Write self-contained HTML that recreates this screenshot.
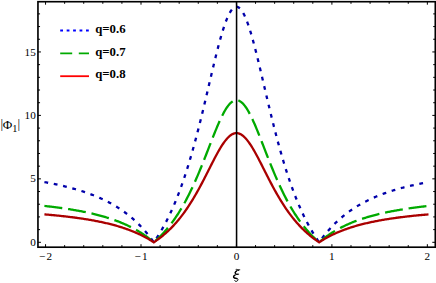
<!DOCTYPE html>
<html><head><meta charset="utf-8"><title>plot</title>
<style>
html,body{margin:0;padding:0;background:#fff;}
body{width:436px;height:283px;overflow:hidden;font-family:"Liberation Serif",serif;}
svg{display:block;}
text{font-family:"Liberation Serif",serif;fill:#000;}
</style></head><body>
<svg width="436" height="283" viewBox="0 0 436 283">
<rect x="0" y="0" width="436" height="283" fill="#fff"/>
<!-- curves -->
<g fill="none" stroke-linejoin="miter" stroke-miterlimit="10">
<path d="M45.55,182.26 L46.50,182.44 L47.46,182.62 L48.41,182.80 L49.37,182.98 L50.32,183.16 L51.28,183.35 L52.23,183.54 L53.19,183.74 L54.14,183.93 L55.09,184.13 L56.05,184.33 L57.00,184.54 L57.96,184.74 L58.91,184.95 L59.87,185.17 L60.82,185.39 L61.78,185.61 L62.73,185.83 L63.69,186.06 L64.64,186.29 L65.59,186.52 L66.55,186.76 L67.50,187.00 L68.46,187.24 L69.41,187.49 L70.37,187.74 L71.32,188.00 L72.28,188.26 L73.23,188.53 L74.18,188.79 L75.14,189.07 L76.09,189.34 L77.05,189.63 L78.00,189.91 L78.96,190.20 L79.91,190.50 L80.87,190.80 L81.82,191.10 L82.78,191.41 L83.73,191.73 L84.68,192.05 L85.64,192.38 L86.59,192.71 L87.55,193.05 L88.50,193.39 L89.46,193.74 L90.41,194.09 L91.37,194.45 L92.32,194.82 L93.27,195.19 L94.23,195.57 L95.18,195.96 L96.14,196.36 L97.09,196.76 L98.05,197.16 L99.00,197.58 L99.96,198.00 L100.91,198.43 L101.87,198.87 L102.82,199.32 L103.77,199.77 L104.73,200.23 L105.68,200.70 L106.64,201.18 L107.59,201.67 L108.55,202.17 L109.50,202.68 L110.46,203.20 L111.41,203.72 L112.36,204.26 L113.32,204.81 L114.27,205.37 L115.23,205.93 L116.18,206.51 L117.14,207.11 L118.09,207.71 L119.05,208.33 L120.00,208.95 L120.96,209.59 L121.91,210.25 L122.86,210.91 L123.82,211.59 L124.77,212.29 L125.73,212.99 L126.68,213.72 L127.64,214.46 L128.59,215.21 L129.55,215.98 L130.50,216.76 L131.45,217.56 L132.41,218.38 L133.36,219.22 L134.32,220.07 L135.27,220.95 L136.23,221.84 L137.18,222.75 L138.14,223.68 L139.09,224.63 L140.05,225.60 L141.00,226.60 L141.95,227.61 L142.91,228.65 L143.86,229.72 L144.82,230.80 L145.77,231.91 L146.73,233.05 L147.68,234.21 L148.64,235.40 L149.59,236.61 L150.54,237.86 L151.50,239.13 L152.45,240.43 L153.41,241.76 L153.79,242.30 L154.36,241.47 L155.32,240.08 L156.27,238.65 L157.23,237.19 L158.18,235.70 L159.14,234.16 L160.09,232.60 L161.04,230.99 L162.00,229.35 L162.95,227.67 L163.91,225.95 L164.86,224.18 L165.82,222.38 L166.77,220.53 L167.73,218.64 L168.68,216.70 L169.63,214.72 L170.59,212.68 L171.54,210.61 L172.50,208.48 L173.45,206.30 L174.41,204.07 L175.36,201.78 L176.32,199.45 L177.27,197.06 L178.23,194.61 L179.18,192.11 L180.13,189.55 L181.09,186.93 L182.04,184.25 L183.00,181.51 L183.95,178.71 L184.91,175.85 L185.86,172.93 L186.82,169.95 L187.77,166.90 L188.72,163.79 L189.68,160.62 L190.63,157.38 L191.59,154.09 L192.54,150.73 L193.50,147.31 L194.45,143.83 L195.41,140.29 L196.36,136.69 L197.32,133.03 L198.27,129.32 L199.22,125.56 L200.18,121.75 L201.13,117.89 L202.09,113.99 L203.04,110.05 L204.00,106.07 L204.95,102.06 L205.91,98.03 L206.86,93.97 L207.81,89.90 L208.77,85.82 L209.72,81.74 L210.68,77.67 L211.63,73.61 L212.59,69.58 L213.54,65.58 L214.50,61.62 L215.45,57.71 L216.41,53.86 L217.36,50.09 L218.31,46.40 L219.27,42.80 L220.22,39.31 L221.18,35.94 L222.13,32.70 L223.09,29.60 L224.04,26.66 L225.00,23.88 L225.95,21.27 L226.91,18.85 L227.86,16.63 L228.81,14.61 L229.77,12.81 L230.72,11.23 L231.68,9.88 L232.63,8.77 L233.59,7.90 L234.54,7.28 L235.50,6.90 L236.45,6.77 L237.40,6.90 L238.36,7.28 L239.31,7.90 L240.27,8.77 L241.22,9.88 L242.18,11.23 L243.13,12.81 L244.09,14.61 L245.04,16.63 L246.00,18.85 L246.95,21.27 L247.90,23.88 L248.86,26.66 L249.81,29.60 L250.77,32.70 L251.72,35.94 L252.68,39.31 L253.63,42.80 L254.59,46.40 L255.54,50.09 L256.49,53.86 L257.45,57.71 L258.40,61.62 L259.36,65.58 L260.31,69.58 L261.27,73.61 L262.22,77.67 L263.18,81.74 L264.13,85.82 L265.09,89.90 L266.04,93.97 L266.99,98.03 L267.95,102.06 L268.90,106.07 L269.86,110.05 L270.81,113.99 L271.77,117.89 L272.72,121.75 L273.68,125.56 L274.63,129.32 L275.58,133.03 L276.54,136.69 L277.49,140.29 L278.45,143.83 L279.40,147.31 L280.36,150.73 L281.31,154.09 L282.27,157.38 L283.22,160.62 L284.18,163.79 L285.13,166.90 L286.08,169.95 L287.04,172.93 L287.99,175.85 L288.95,178.71 L289.90,181.51 L290.86,184.25 L291.81,186.93 L292.77,189.55 L293.72,192.11 L294.67,194.61 L295.63,197.06 L296.58,199.45 L297.54,201.78 L298.49,204.07 L299.45,206.30 L300.40,208.48 L301.36,210.61 L302.31,212.68 L303.26,214.72 L304.22,216.70 L305.17,218.64 L306.13,220.53 L307.08,222.38 L308.04,224.18 L308.99,225.95 L309.95,227.67 L310.90,229.35 L311.86,230.99 L312.81,232.60 L313.76,234.16 L314.72,235.70 L315.67,237.19 L316.63,238.65 L317.58,240.08 L318.54,241.47 L319.11,242.30 L319.49,241.76 L320.45,240.43 L321.40,239.13 L322.36,237.86 L323.31,236.61 L324.26,235.40 L325.22,234.21 L326.17,233.05 L327.13,231.91 L328.08,230.80 L329.04,229.72 L329.99,228.65 L330.95,227.61 L331.90,226.60 L332.85,225.60 L333.81,224.63 L334.76,223.68 L335.72,222.75 L336.67,221.84 L337.63,220.95 L338.58,220.07 L339.54,219.22 L340.49,218.38 L341.44,217.56 L342.40,216.76 L343.35,215.98 L344.31,215.21 L345.26,214.46 L346.22,213.72 L347.17,212.99 L348.13,212.29 L349.08,211.59 L350.04,210.91 L350.99,210.25 L351.94,209.59 L352.90,208.95 L353.85,208.33 L354.81,207.71 L355.76,207.11 L356.72,206.51 L357.67,205.93 L358.63,205.37 L359.58,204.81 L360.54,204.26 L361.49,203.72 L362.44,203.20 L363.40,202.68 L364.35,202.17 L365.31,201.67 L366.26,201.18 L367.22,200.70 L368.17,200.23 L369.13,199.77 L370.08,199.32 L371.03,198.87 L371.99,198.43 L372.94,198.00 L373.90,197.58 L374.85,197.16 L375.81,196.76 L376.76,196.36 L377.72,195.96 L378.67,195.57 L379.62,195.19 L380.58,194.82 L381.53,194.45 L382.49,194.09 L383.44,193.74 L384.40,193.39 L385.35,193.05 L386.31,192.71 L387.26,192.38 L388.22,192.05 L389.17,191.73 L390.12,191.41 L391.08,191.10 L392.03,190.80 L392.99,190.50 L393.94,190.20 L394.90,189.91 L395.85,189.63 L396.81,189.34 L397.76,189.07 L398.72,188.79 L399.67,188.53 L400.62,188.26 L401.58,188.00 L402.53,187.74 L403.49,187.49 L404.44,187.24 L405.40,187.00 L406.35,186.76 L407.31,186.52 L408.26,186.29 L409.21,186.06 L410.17,185.83 L411.12,185.61 L412.08,185.39 L413.03,185.17 L413.99,184.95 L414.94,184.74 L415.90,184.54 L416.85,184.33 L417.80,184.13 L418.76,183.93 L419.71,183.74 L420.67,183.54 L421.62,183.35 L422.58,183.16 L423.53,182.98 L424.49,182.80 L425.44,182.62 L426.40,182.44 L427.35,182.26" stroke="#0000aa" stroke-width="2.3" stroke-linecap="square" stroke-dasharray="1.5 8.024"/>
<path d="M45.55,206.07 L46.50,206.18 L47.46,206.28 L48.41,206.39 L49.37,206.50 L50.32,206.61 L51.28,206.73 L52.23,206.84 L53.19,206.96 L54.14,207.08 L55.09,207.20 L56.05,207.32 L57.00,207.44 L57.96,207.57 L58.91,207.70 L59.87,207.82 L60.82,207.96 L61.78,208.09 L62.73,208.22 L63.69,208.36 L64.64,208.50 L65.59,208.64 L66.55,208.78 L67.50,208.93 L68.46,209.08 L69.41,209.23 L70.37,209.38 L71.32,209.53 L72.28,209.69 L73.23,209.85 L74.18,210.01 L75.14,210.18 L76.09,210.34 L77.05,210.51 L78.00,210.69 L78.96,210.86 L79.91,211.04 L80.87,211.22 L81.82,211.41 L82.78,211.59 L83.73,211.78 L84.68,211.98 L85.64,212.17 L86.59,212.37 L87.55,212.58 L88.50,212.78 L89.46,213.00 L90.41,213.21 L91.37,213.43 L92.32,213.65 L93.27,213.87 L94.23,214.10 L95.18,214.34 L96.14,214.57 L97.09,214.82 L98.05,215.06 L99.00,215.31 L99.96,215.57 L100.91,215.83 L101.87,216.09 L102.82,216.36 L103.77,216.64 L104.73,216.91 L105.68,217.20 L106.64,217.49 L107.59,217.78 L108.55,218.08 L109.50,218.39 L110.46,218.70 L111.41,219.02 L112.36,219.34 L113.32,219.68 L114.27,220.01 L115.23,220.36 L116.18,220.71 L117.14,221.06 L118.09,221.43 L119.05,221.80 L120.00,222.18 L120.96,222.56 L121.91,222.96 L122.86,223.36 L123.82,223.77 L124.77,224.19 L125.73,224.62 L126.68,225.05 L127.64,225.50 L128.59,225.95 L129.55,226.42 L130.50,226.89 L131.45,227.37 L132.41,227.87 L133.36,228.37 L134.32,228.89 L135.27,229.41 L136.23,229.95 L137.18,230.50 L138.14,231.06 L139.09,231.64 L140.05,232.22 L141.00,232.82 L141.95,233.44 L142.91,234.06 L143.86,234.71 L144.82,235.36 L145.77,236.03 L146.73,236.72 L147.68,237.42 L148.64,238.13 L149.59,238.87 L150.54,239.62 L151.50,240.39 L152.45,241.17 L153.41,241.98 L153.79,242.30 L154.36,241.80 L155.32,240.96 L156.27,240.10 L157.23,239.22 L158.18,238.31 L159.14,237.39 L160.09,236.44 L161.04,235.48 L162.00,234.48 L162.95,233.47 L163.91,232.43 L164.86,231.37 L165.82,230.28 L166.77,229.16 L167.73,228.02 L168.68,226.85 L169.63,225.65 L170.59,224.43 L171.54,223.17 L172.50,221.89 L173.45,220.57 L174.41,219.23 L175.36,217.85 L176.32,216.44 L177.27,215.00 L178.23,213.52 L179.18,212.01 L180.13,210.47 L181.09,208.88 L182.04,207.27 L183.00,205.62 L183.95,203.93 L184.91,202.20 L185.86,200.44 L186.82,198.64 L187.77,196.80 L188.72,194.92 L189.68,193.01 L190.63,191.06 L191.59,189.07 L192.54,187.04 L193.50,184.98 L194.45,182.88 L195.41,180.74 L196.36,178.57 L197.32,176.36 L198.27,174.12 L199.22,171.85 L200.18,169.55 L201.13,167.23 L202.09,164.87 L203.04,162.49 L204.00,160.09 L204.95,157.67 L205.91,155.24 L206.86,152.79 L207.81,150.33 L208.77,147.87 L209.72,145.41 L210.68,142.96 L211.63,140.51 L212.59,138.07 L213.54,135.66 L214.50,133.27 L215.45,130.91 L216.41,128.59 L217.36,126.31 L218.31,124.08 L219.27,121.91 L220.22,119.81 L221.18,117.77 L222.13,115.82 L223.09,113.95 L224.04,112.17 L225.00,110.49 L225.95,108.92 L226.91,107.46 L227.86,106.12 L228.81,104.90 L229.77,103.81 L230.72,102.86 L231.68,102.05 L232.63,101.38 L233.59,100.85 L234.54,100.47 L235.50,100.25 L236.45,100.17 L237.40,100.25 L238.36,100.47 L239.31,100.85 L240.27,101.38 L241.22,102.05 L242.18,102.86 L243.13,103.81 L244.09,104.90 L245.04,106.12 L246.00,107.46 L246.95,108.92 L247.90,110.49 L248.86,112.17 L249.81,113.95 L250.77,115.82 L251.72,117.77 L252.68,119.81 L253.63,121.91 L254.59,124.08 L255.54,126.31 L256.49,128.59 L257.45,130.91 L258.40,133.27 L259.36,135.66 L260.31,138.07 L261.27,140.51 L262.22,142.96 L263.18,145.41 L264.13,147.87 L265.09,150.33 L266.04,152.79 L266.99,155.24 L267.95,157.67 L268.90,160.09 L269.86,162.49 L270.81,164.87 L271.77,167.23 L272.72,169.55 L273.68,171.85 L274.63,174.12 L275.58,176.36 L276.54,178.57 L277.49,180.74 L278.45,182.88 L279.40,184.98 L280.36,187.04 L281.31,189.07 L282.27,191.06 L283.22,193.01 L284.18,194.92 L285.13,196.80 L286.08,198.64 L287.04,200.44 L287.99,202.20 L288.95,203.93 L289.90,205.62 L290.86,207.27 L291.81,208.88 L292.77,210.47 L293.72,212.01 L294.67,213.52 L295.63,215.00 L296.58,216.44 L297.54,217.85 L298.49,219.23 L299.45,220.57 L300.40,221.89 L301.36,223.17 L302.31,224.43 L303.26,225.65 L304.22,226.85 L305.17,228.02 L306.13,229.16 L307.08,230.28 L308.04,231.37 L308.99,232.43 L309.95,233.47 L310.90,234.48 L311.86,235.48 L312.81,236.44 L313.76,237.39 L314.72,238.31 L315.67,239.22 L316.63,240.10 L317.58,240.96 L318.54,241.80 L319.11,242.30 L319.49,241.98 L320.45,241.17 L321.40,240.39 L322.36,239.62 L323.31,238.87 L324.26,238.13 L325.22,237.42 L326.17,236.72 L327.13,236.03 L328.08,235.36 L329.04,234.71 L329.99,234.06 L330.95,233.44 L331.90,232.82 L332.85,232.22 L333.81,231.64 L334.76,231.06 L335.72,230.50 L336.67,229.95 L337.63,229.41 L338.58,228.89 L339.54,228.37 L340.49,227.87 L341.44,227.37 L342.40,226.89 L343.35,226.42 L344.31,225.95 L345.26,225.50 L346.22,225.05 L347.17,224.62 L348.13,224.19 L349.08,223.77 L350.04,223.36 L350.99,222.96 L351.94,222.56 L352.90,222.18 L353.85,221.80 L354.81,221.43 L355.76,221.06 L356.72,220.71 L357.67,220.36 L358.63,220.01 L359.58,219.68 L360.54,219.34 L361.49,219.02 L362.44,218.70 L363.40,218.39 L364.35,218.08 L365.31,217.78 L366.26,217.49 L367.22,217.20 L368.17,216.91 L369.13,216.64 L370.08,216.36 L371.03,216.09 L371.99,215.83 L372.94,215.57 L373.90,215.31 L374.85,215.06 L375.81,214.82 L376.76,214.57 L377.72,214.34 L378.67,214.10 L379.62,213.87 L380.58,213.65 L381.53,213.43 L382.49,213.21 L383.44,213.00 L384.40,212.78 L385.35,212.58 L386.31,212.37 L387.26,212.17 L388.22,211.98 L389.17,211.78 L390.12,211.59 L391.08,211.41 L392.03,211.22 L392.99,211.04 L393.94,210.86 L394.90,210.69 L395.85,210.51 L396.81,210.34 L397.76,210.18 L398.72,210.01 L399.67,209.85 L400.62,209.69 L401.58,209.53 L402.53,209.38 L403.49,209.23 L404.44,209.08 L405.40,208.93 L406.35,208.78 L407.31,208.64 L408.26,208.50 L409.21,208.36 L410.17,208.22 L411.12,208.09 L412.08,207.96 L413.03,207.82 L413.99,207.70 L414.94,207.57 L415.90,207.44 L416.85,207.32 L417.80,207.20 L418.76,207.08 L419.71,206.96 L420.67,206.84 L421.62,206.73 L422.58,206.61 L423.53,206.50 L424.49,206.39 L425.44,206.28 L426.40,206.18 L427.35,206.07" stroke="#00aa00" stroke-width="2.3" stroke-linecap="square" stroke-dasharray="15.7 8.15"/>
<path d="M45.55,214.48 L46.50,214.56 L47.46,214.64 L48.41,214.73 L49.37,214.81 L50.32,214.90 L51.28,214.99 L52.23,215.07 L53.19,215.16 L54.14,215.25 L55.09,215.35 L56.05,215.44 L57.00,215.53 L57.96,215.63 L58.91,215.73 L59.87,215.83 L60.82,215.93 L61.78,216.03 L62.73,216.13 L63.69,216.24 L64.64,216.35 L65.59,216.45 L66.55,216.56 L67.50,216.68 L68.46,216.79 L69.41,216.90 L70.37,217.02 L71.32,217.14 L72.28,217.26 L73.23,217.38 L74.18,217.51 L75.14,217.63 L76.09,217.76 L77.05,217.89 L78.00,218.03 L78.96,218.16 L79.91,218.30 L80.87,218.44 L81.82,218.58 L82.78,218.72 L83.73,218.87 L84.68,219.02 L85.64,219.17 L86.59,219.32 L87.55,219.48 L88.50,219.64 L89.46,219.80 L90.41,219.96 L91.37,220.13 L92.32,220.30 L93.27,220.47 L94.23,220.65 L95.18,220.83 L96.14,221.01 L97.09,221.20 L98.05,221.39 L99.00,221.58 L99.96,221.77 L100.91,221.97 L101.87,222.18 L102.82,222.38 L103.77,222.59 L104.73,222.81 L105.68,223.03 L106.64,223.25 L107.59,223.47 L108.55,223.71 L109.50,223.94 L110.46,224.18 L111.41,224.42 L112.36,224.67 L113.32,224.93 L114.27,225.19 L115.23,225.45 L116.18,225.72 L117.14,225.99 L118.09,226.27 L119.05,226.56 L120.00,226.85 L120.96,227.14 L121.91,227.45 L122.86,227.76 L123.82,228.07 L124.77,228.39 L125.73,228.72 L126.68,229.06 L127.64,229.40 L128.59,229.75 L129.55,230.10 L130.50,230.47 L131.45,230.84 L132.41,231.22 L133.36,231.61 L134.32,232.00 L135.27,232.41 L136.23,232.82 L137.18,233.24 L138.14,233.67 L139.09,234.11 L140.05,234.56 L141.00,235.02 L141.95,235.50 L142.91,235.98 L143.86,236.47 L144.82,236.97 L145.77,237.49 L146.73,238.01 L147.68,238.55 L148.64,239.10 L149.59,239.66 L150.54,240.24 L151.50,240.83 L152.45,241.43 L153.41,242.05 L153.79,242.30 L154.36,241.92 L155.32,241.27 L156.27,240.61 L157.23,239.93 L158.18,239.24 L159.14,238.53 L160.09,237.80 L161.04,237.06 L162.00,236.30 L162.95,235.52 L163.91,234.72 L164.86,233.91 L165.82,233.07 L166.77,232.21 L167.73,231.34 L168.68,230.44 L169.63,229.52 L170.59,228.58 L171.54,227.61 L172.50,226.63 L173.45,225.62 L174.41,224.58 L175.36,223.53 L176.32,222.44 L177.27,221.34 L178.23,220.20 L179.18,219.04 L180.13,217.86 L181.09,216.64 L182.04,215.40 L183.00,214.13 L183.95,212.84 L184.91,211.51 L185.86,210.16 L186.82,208.77 L187.77,207.36 L188.72,205.92 L189.68,204.45 L190.63,202.95 L191.59,201.43 L192.54,199.87 L193.50,198.28 L194.45,196.67 L195.41,195.03 L196.36,193.36 L197.32,191.67 L198.27,189.95 L199.22,188.21 L200.18,186.44 L201.13,184.65 L202.09,182.85 L203.04,181.02 L204.00,179.18 L204.95,177.32 L205.91,175.45 L206.86,173.57 L207.81,171.68 L208.77,169.79 L209.72,167.90 L210.68,166.02 L211.63,164.14 L212.59,162.27 L213.54,160.41 L214.50,158.58 L215.45,156.77 L216.41,154.99 L217.36,153.24 L218.31,151.53 L219.27,149.86 L220.22,148.24 L221.18,146.68 L222.13,145.18 L223.09,143.74 L224.04,142.38 L225.00,141.09 L225.95,139.88 L226.91,138.76 L227.86,137.73 L228.81,136.80 L229.77,135.96 L230.72,135.23 L231.68,134.61 L232.63,134.09 L233.59,133.69 L234.54,133.40 L235.50,133.22 L236.45,133.17 L237.40,133.22 L238.36,133.40 L239.31,133.69 L240.27,134.09 L241.22,134.61 L242.18,135.23 L243.13,135.96 L244.09,136.80 L245.04,137.73 L246.00,138.76 L246.95,139.88 L247.90,141.09 L248.86,142.38 L249.81,143.74 L250.77,145.18 L251.72,146.68 L252.68,148.24 L253.63,149.86 L254.59,151.53 L255.54,153.24 L256.49,154.99 L257.45,156.77 L258.40,158.58 L259.36,160.41 L260.31,162.27 L261.27,164.14 L262.22,166.02 L263.18,167.90 L264.13,169.79 L265.09,171.68 L266.04,173.57 L266.99,175.45 L267.95,177.32 L268.90,179.18 L269.86,181.02 L270.81,182.85 L271.77,184.65 L272.72,186.44 L273.68,188.21 L274.63,189.95 L275.58,191.67 L276.54,193.36 L277.49,195.03 L278.45,196.67 L279.40,198.28 L280.36,199.87 L281.31,201.43 L282.27,202.95 L283.22,204.45 L284.18,205.92 L285.13,207.36 L286.08,208.77 L287.04,210.16 L287.99,211.51 L288.95,212.84 L289.90,214.13 L290.86,215.40 L291.81,216.64 L292.77,217.86 L293.72,219.04 L294.67,220.20 L295.63,221.34 L296.58,222.44 L297.54,223.53 L298.49,224.58 L299.45,225.62 L300.40,226.63 L301.36,227.61 L302.31,228.58 L303.26,229.52 L304.22,230.44 L305.17,231.34 L306.13,232.21 L307.08,233.07 L308.04,233.91 L308.99,234.72 L309.95,235.52 L310.90,236.30 L311.86,237.06 L312.81,237.80 L313.76,238.53 L314.72,239.24 L315.67,239.93 L316.63,240.61 L317.58,241.27 L318.54,241.92 L319.11,242.30 L319.49,242.05 L320.45,241.43 L321.40,240.83 L322.36,240.24 L323.31,239.66 L324.26,239.10 L325.22,238.55 L326.17,238.01 L327.13,237.49 L328.08,236.97 L329.04,236.47 L329.99,235.98 L330.95,235.50 L331.90,235.02 L332.85,234.56 L333.81,234.11 L334.76,233.67 L335.72,233.24 L336.67,232.82 L337.63,232.41 L338.58,232.00 L339.54,231.61 L340.49,231.22 L341.44,230.84 L342.40,230.47 L343.35,230.10 L344.31,229.75 L345.26,229.40 L346.22,229.06 L347.17,228.72 L348.13,228.39 L349.08,228.07 L350.04,227.76 L350.99,227.45 L351.94,227.14 L352.90,226.85 L353.85,226.56 L354.81,226.27 L355.76,225.99 L356.72,225.72 L357.67,225.45 L358.63,225.19 L359.58,224.93 L360.54,224.67 L361.49,224.42 L362.44,224.18 L363.40,223.94 L364.35,223.71 L365.31,223.47 L366.26,223.25 L367.22,223.03 L368.17,222.81 L369.13,222.59 L370.08,222.38 L371.03,222.18 L371.99,221.97 L372.94,221.77 L373.90,221.58 L374.85,221.39 L375.81,221.20 L376.76,221.01 L377.72,220.83 L378.67,220.65 L379.62,220.47 L380.58,220.30 L381.53,220.13 L382.49,219.96 L383.44,219.80 L384.40,219.64 L385.35,219.48 L386.31,219.32 L387.26,219.17 L388.22,219.02 L389.17,218.87 L390.12,218.72 L391.08,218.58 L392.03,218.44 L392.99,218.30 L393.94,218.16 L394.90,218.03 L395.85,217.89 L396.81,217.76 L397.76,217.63 L398.72,217.51 L399.67,217.38 L400.62,217.26 L401.58,217.14 L402.53,217.02 L403.49,216.90 L404.44,216.79 L405.40,216.68 L406.35,216.56 L407.31,216.45 L408.26,216.35 L409.21,216.24 L410.17,216.13 L411.12,216.03 L412.08,215.93 L413.03,215.83 L413.99,215.73 L414.94,215.63 L415.90,215.53 L416.85,215.44 L417.80,215.35 L418.76,215.25 L419.71,215.16 L420.67,215.07 L421.62,214.99 L422.58,214.90 L423.53,214.81 L424.49,214.73 L425.44,214.64 L426.40,214.56 L427.35,214.48" stroke="#aa0000" stroke-width="2.3" stroke-linecap="square"/>
</g>
<!-- vertical line at 0 -->
<line x1="236.57" y1="1.7" x2="236.57" y2="247.2" stroke="#000" stroke-width="1.55"/>
<!-- frame -->
<rect x="37.95" y="1.7" width="397.35" height="245.50" fill="none" stroke="#000" stroke-width="1.65"/>
<g stroke="#000" stroke-width="1">
<line x1="45.55" y1="247.2" x2="45.55" y2="244.20"/>
<line x1="45.55" y1="1.7" x2="45.55" y2="4.70"/>
<line x1="64.64" y1="247.2" x2="64.64" y2="245.10"/>
<line x1="64.64" y1="1.7" x2="64.64" y2="3.80"/>
<line x1="83.73" y1="247.2" x2="83.73" y2="245.10"/>
<line x1="83.73" y1="1.7" x2="83.73" y2="3.80"/>
<line x1="102.82" y1="247.2" x2="102.82" y2="245.10"/>
<line x1="102.82" y1="1.7" x2="102.82" y2="3.80"/>
<line x1="121.91" y1="247.2" x2="121.91" y2="245.10"/>
<line x1="121.91" y1="1.7" x2="121.91" y2="3.80"/>
<line x1="141.00" y1="247.2" x2="141.00" y2="244.20"/>
<line x1="141.00" y1="1.7" x2="141.00" y2="4.70"/>
<line x1="160.09" y1="247.2" x2="160.09" y2="245.10"/>
<line x1="160.09" y1="1.7" x2="160.09" y2="3.80"/>
<line x1="179.18" y1="247.2" x2="179.18" y2="245.10"/>
<line x1="179.18" y1="1.7" x2="179.18" y2="3.80"/>
<line x1="198.27" y1="247.2" x2="198.27" y2="245.10"/>
<line x1="198.27" y1="1.7" x2="198.27" y2="3.80"/>
<line x1="217.36" y1="247.2" x2="217.36" y2="245.10"/>
<line x1="217.36" y1="1.7" x2="217.36" y2="3.80"/>
<line x1="236.45" y1="247.2" x2="236.45" y2="244.20"/>
<line x1="236.45" y1="1.7" x2="236.45" y2="4.70"/>
<line x1="255.54" y1="247.2" x2="255.54" y2="245.10"/>
<line x1="255.54" y1="1.7" x2="255.54" y2="3.80"/>
<line x1="274.63" y1="247.2" x2="274.63" y2="245.10"/>
<line x1="274.63" y1="1.7" x2="274.63" y2="3.80"/>
<line x1="293.72" y1="247.2" x2="293.72" y2="245.10"/>
<line x1="293.72" y1="1.7" x2="293.72" y2="3.80"/>
<line x1="312.81" y1="247.2" x2="312.81" y2="245.10"/>
<line x1="312.81" y1="1.7" x2="312.81" y2="3.80"/>
<line x1="331.90" y1="247.2" x2="331.90" y2="244.20"/>
<line x1="331.90" y1="1.7" x2="331.90" y2="4.70"/>
<line x1="350.99" y1="247.2" x2="350.99" y2="245.10"/>
<line x1="350.99" y1="1.7" x2="350.99" y2="3.80"/>
<line x1="370.08" y1="247.2" x2="370.08" y2="245.10"/>
<line x1="370.08" y1="1.7" x2="370.08" y2="3.80"/>
<line x1="389.17" y1="247.2" x2="389.17" y2="245.10"/>
<line x1="389.17" y1="1.7" x2="389.17" y2="3.80"/>
<line x1="408.26" y1="247.2" x2="408.26" y2="245.10"/>
<line x1="408.26" y1="1.7" x2="408.26" y2="3.80"/>
<line x1="427.35" y1="247.2" x2="427.35" y2="244.20"/>
<line x1="427.35" y1="1.7" x2="427.35" y2="4.70"/>
<line x1="37.95" y1="242.30" x2="40.95" y2="242.30"/>
<line x1="435.3" y1="242.30" x2="432.30" y2="242.30"/>
<line x1="37.95" y1="229.61" x2="40.05" y2="229.61"/>
<line x1="435.3" y1="229.61" x2="433.20" y2="229.61"/>
<line x1="37.95" y1="216.92" x2="40.05" y2="216.92"/>
<line x1="435.3" y1="216.92" x2="433.20" y2="216.92"/>
<line x1="37.95" y1="204.23" x2="40.05" y2="204.23"/>
<line x1="435.3" y1="204.23" x2="433.20" y2="204.23"/>
<line x1="37.95" y1="191.54" x2="40.05" y2="191.54"/>
<line x1="435.3" y1="191.54" x2="433.20" y2="191.54"/>
<line x1="37.95" y1="178.85" x2="40.95" y2="178.85"/>
<line x1="435.3" y1="178.85" x2="432.30" y2="178.85"/>
<line x1="37.95" y1="166.16" x2="40.05" y2="166.16"/>
<line x1="435.3" y1="166.16" x2="433.20" y2="166.16"/>
<line x1="37.95" y1="153.47" x2="40.05" y2="153.47"/>
<line x1="435.3" y1="153.47" x2="433.20" y2="153.47"/>
<line x1="37.95" y1="140.78" x2="40.05" y2="140.78"/>
<line x1="435.3" y1="140.78" x2="433.20" y2="140.78"/>
<line x1="37.95" y1="128.09" x2="40.05" y2="128.09"/>
<line x1="435.3" y1="128.09" x2="433.20" y2="128.09"/>
<line x1="37.95" y1="115.40" x2="40.95" y2="115.40"/>
<line x1="435.3" y1="115.40" x2="432.30" y2="115.40"/>
<line x1="37.95" y1="102.71" x2="40.05" y2="102.71"/>
<line x1="435.3" y1="102.71" x2="433.20" y2="102.71"/>
<line x1="37.95" y1="90.02" x2="40.05" y2="90.02"/>
<line x1="435.3" y1="90.02" x2="433.20" y2="90.02"/>
<line x1="37.95" y1="77.33" x2="40.05" y2="77.33"/>
<line x1="435.3" y1="77.33" x2="433.20" y2="77.33"/>
<line x1="37.95" y1="64.64" x2="40.05" y2="64.64"/>
<line x1="435.3" y1="64.64" x2="433.20" y2="64.64"/>
<line x1="37.95" y1="51.95" x2="40.95" y2="51.95"/>
<line x1="435.3" y1="51.95" x2="432.30" y2="51.95"/>
<line x1="37.95" y1="39.26" x2="40.05" y2="39.26"/>
<line x1="435.3" y1="39.26" x2="433.20" y2="39.26"/>
<line x1="37.95" y1="26.57" x2="40.05" y2="26.57"/>
<line x1="435.3" y1="26.57" x2="433.20" y2="26.57"/>
<line x1="37.95" y1="13.88" x2="40.05" y2="13.88"/>
<line x1="435.3" y1="13.88" x2="433.20" y2="13.88"/>
</g>
<g font-size="11.2px">
<text x="45.55" y="259.6" text-anchor="middle">−<tspan dx="1.3">2</tspan></text>
<text x="141.00" y="259.6" text-anchor="middle">−<tspan dx="1.3">1</tspan></text>
<text x="236.45" y="259.6" text-anchor="middle">0</text>
<text x="331.90" y="259.6" text-anchor="middle">1</text>
<text x="427.35" y="259.6" text-anchor="middle">2</text>
<text x="35.8" y="245.90" text-anchor="end">0</text>
<text x="35.8" y="182.45" text-anchor="end">5</text>
<text x="35.8" y="119.00" text-anchor="end">10</text>
<text x="35.8" y="55.55" text-anchor="end">15</text>
</g>
<!-- axis labels -->
<g font-size="13px"><text x="0.4" y="128.4">|</text><text x="2.8" y="128.7">Φ</text><text x="12.3" y="131.5" font-size="10.3px">1</text><text x="17.4" y="128.4">|</text></g>
<g fill="none" stroke="#000" stroke-linecap="round" stroke-linejoin="round">
<path d="M236.1,269.3 C237.0,269.0 238.6,270.3 239.8,269.9" stroke-width="0.9"/>
<path d="M238.6,270.3 C236.6,270.5 235.0,271.8 235.2,273.0 C235.4,274.0 236.8,274.3 238.7,274.2" stroke-width="1.0"/>
<path d="M236.4,271.0 C235.4,271.7 235.0,272.5 235.4,273.4" stroke-width="1.45"/>
<path d="M237.6,274.3 C235.5,274.5 233.2,275.5 233.4,277.0 C233.6,278.2 236.0,278.2 237.4,278.7 C238.7,279.2 238.0,280.7 236.6,281.3 C235.8,281.6 235.0,281.2 234.7,280.6" stroke-width="1.0"/>
<path d="M234.6,275.4 C233.6,276.0 233.3,276.9 234.0,277.7 C234.6,278.2 235.6,278.3 236.6,278.5" stroke-width="1.45"/>
</g>
<!-- legend -->
<g fill="none" stroke-width="1.8">
<line x1="60.2" y1="30.5" x2="89" y2="30.5" stroke="#0000ff" stroke-dasharray="2.8 3.65"/>
<line x1="60.2" y1="53.4" x2="89" y2="53.4" stroke="#00aa00" stroke-dasharray="12 6.6"/>
<line x1="60.2" y1="76.2" x2="89" y2="76.2" stroke="#ff0000"/>
</g>
<g font-size="12.8px" font-weight="bold">
<text x="95.2" y="32.8">q=0.6</text>
<text x="95.2" y="55.5">q=0.7</text>
<text x="95.2" y="78.1">q=0.8</text>
</g>
</svg>
</body></html>
